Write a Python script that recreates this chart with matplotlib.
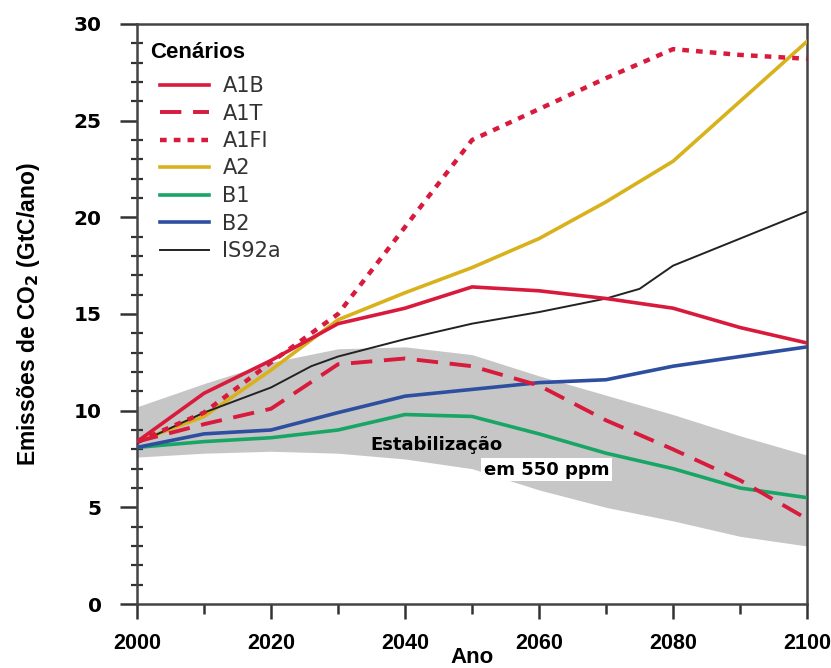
import numpy as np
import matplotlib
matplotlib.use("Agg")
import matplotlib.pyplot as plt
from matplotlib.ticker import MultipleLocator

plt.rcParams['font.family'] = ['Liberation Sans', 'DejaVu Sans']

# Data
years = [2000, 2010, 2020, 2030, 2040, 2050, 2060, 2070, 2080, 2090, 2100]
a1b = [8.4, 10.9, 12.6, 14.5, 15.3, 16.4, 16.2, 15.8, 15.3, 14.3, 13.5]
a1t = [8.4, 9.3, 10.1, 12.4, 12.7, 12.3, 11.3, 9.5, 8.0, 6.4, 4.4]
a1fi = [8.4, 9.9, 12.5, 15.0, 19.5, 24.0, 25.6, 27.2, 28.7, 28.4, 28.2]
a2 = [8.4, 9.7, 12.1, 14.7, 16.1, 17.4, 18.9, 20.8, 22.9, 26.0, 29.1]
b1 = [8.1, 8.4, 8.6, 9.0, 9.8, 9.7, 8.8, 7.8, 7.0, 6.0, 5.5]
b2 = [8.1, 8.8, 9.0, 9.9, 10.75, 11.1, 11.45, 11.6, 12.3, 12.8, 13.3]
is92a_years = [2000, 2010, 2020, 2026, 2030, 2040, 2050, 2060, 2070, 2075, 2080, 2090, 2100]
is92a = [8.3, 9.9, 11.2, 12.3, 12.8, 13.7, 14.5, 15.1, 15.8, 16.3, 17.5, 18.9, 20.3]
band_upper = [10.2, 11.4, 12.5, 13.2, 13.3, 12.9, 11.8, 10.8, 9.8, 8.7, 7.7]
band_lower = [7.6, 7.8, 7.9, 7.8, 7.5, 7.0, 5.9, 5.0, 4.3, 3.5, 3.0]

red = '#d81a3c'
fig = plt.figure(figsize=(8.31, 6.68), dpi=100)
ax = fig.add_axes([0.1649, 0.0958, 0.8063, 0.8683])

# stabilisation band
ax.fill_between(years, band_lower, band_upper, color='#c6c6c6', lw=0, zorder=1)

ax.plot(years, a1b, color=red, lw=2.6, label='A1B', zorder=4)
ax.plot(years, a1t, color=red, lw=2.8, dashes=(5.5, 3), label='A1T', zorder=4)
ax.plot(years, a1fi, color=red, lw=3.2, dashes=(1.5, 1.6), label='A1FI', zorder=4)
ax.plot(years, a2, color='#d8b21c', lw=2.6, label='A2', zorder=3)
ax.plot(years, b1, color='#19a566', lw=2.6, label='B1', zorder=3)
ax.plot(years, b2, color='#2e4f9f', lw=2.6, label='B2', zorder=3)
ax.plot(is92a_years, is92a, color='#222222', lw=1.4, label='IS92a', zorder=3)

ax.text(2034.8, 8.2, 'Estabilização', fontsize=13, fontweight='bold',
        family='DejaVu Sans', va='center', ha='left', zorder=5)
ax.text(2051.8, 6.95, 'em 550 ppm', fontsize=13, fontweight='bold',
        family='DejaVu Sans', va='center', ha='left', zorder=5,
        bbox=dict(facecolor='white', edgecolor='none', pad=2))

ax.set_xlim(2000, 2100)
ax.set_ylim(0, 30)
ax.xaxis.set_major_locator(MultipleLocator(20))
ax.xaxis.set_minor_locator(MultipleLocator(10))
ax.yaxis.set_major_locator(MultipleLocator(5))
ax.yaxis.set_minor_locator(MultipleLocator(1))

ax.tick_params(axis='x', which='major', direction='out', length=11, width=1.8,
               pad=10, color='#333333')
ax.tick_params(axis='x', which='minor', direction='out', length=7, width=1.8,
               color='#333333')
ax.tick_params(axis='y', which='major', direction='out', length=12, width=1.8,
               pad=13.5, color='#333333')
ax.tick_params(axis='y', which='minor', direction='inout', length=9, width=1.6,
               color='#333333')
for lab in ax.get_xticklabels():
    lab.set_fontweight('bold')
    lab.set_fontsize(15.5)
for lab in ax.get_yticklabels():
    lab.set_fontweight('bold')
    lab.set_family('DejaVu Sans')
    lab.set_fontsize(14.5)

for sp in ax.spines.values():
    sp.set_color('#444444')
    sp.set_linewidth(1.8)

ax.set_ylabel('Emissões de CO$_\\mathbf{2}$ (GtC/ano)', fontsize=16.5, fontweight='bold')
ax.yaxis.set_label_coords(-0.142, 0.5)
ax.set_xlabel('Ano', fontsize=16, fontweight='bold')
ax.xaxis.set_label_coords(0.5, -0.074)

# legend: title as separate text so the entries can sit indented below it
fig.text(150 / 831, 1 - 53 / 668, 'Cenários', fontsize=16, fontweight='bold',
         ha='left', va='center')
leg = ax.legend(loc='upper left', bbox_to_anchor=(160 / 831, 1 - 76 / 668),
                bbox_transform=fig.transFigure, frameon=False,
                prop={'family': 'DejaVu Sans', 'size': 15},
                handlelength=2.35, handletextpad=0.65, labelspacing=0.36,
                borderpad=0, borderaxespad=0)
for t in leg.get_texts():
    t.set_color('#333333')

fig.savefig('out.png', dpi=100)
